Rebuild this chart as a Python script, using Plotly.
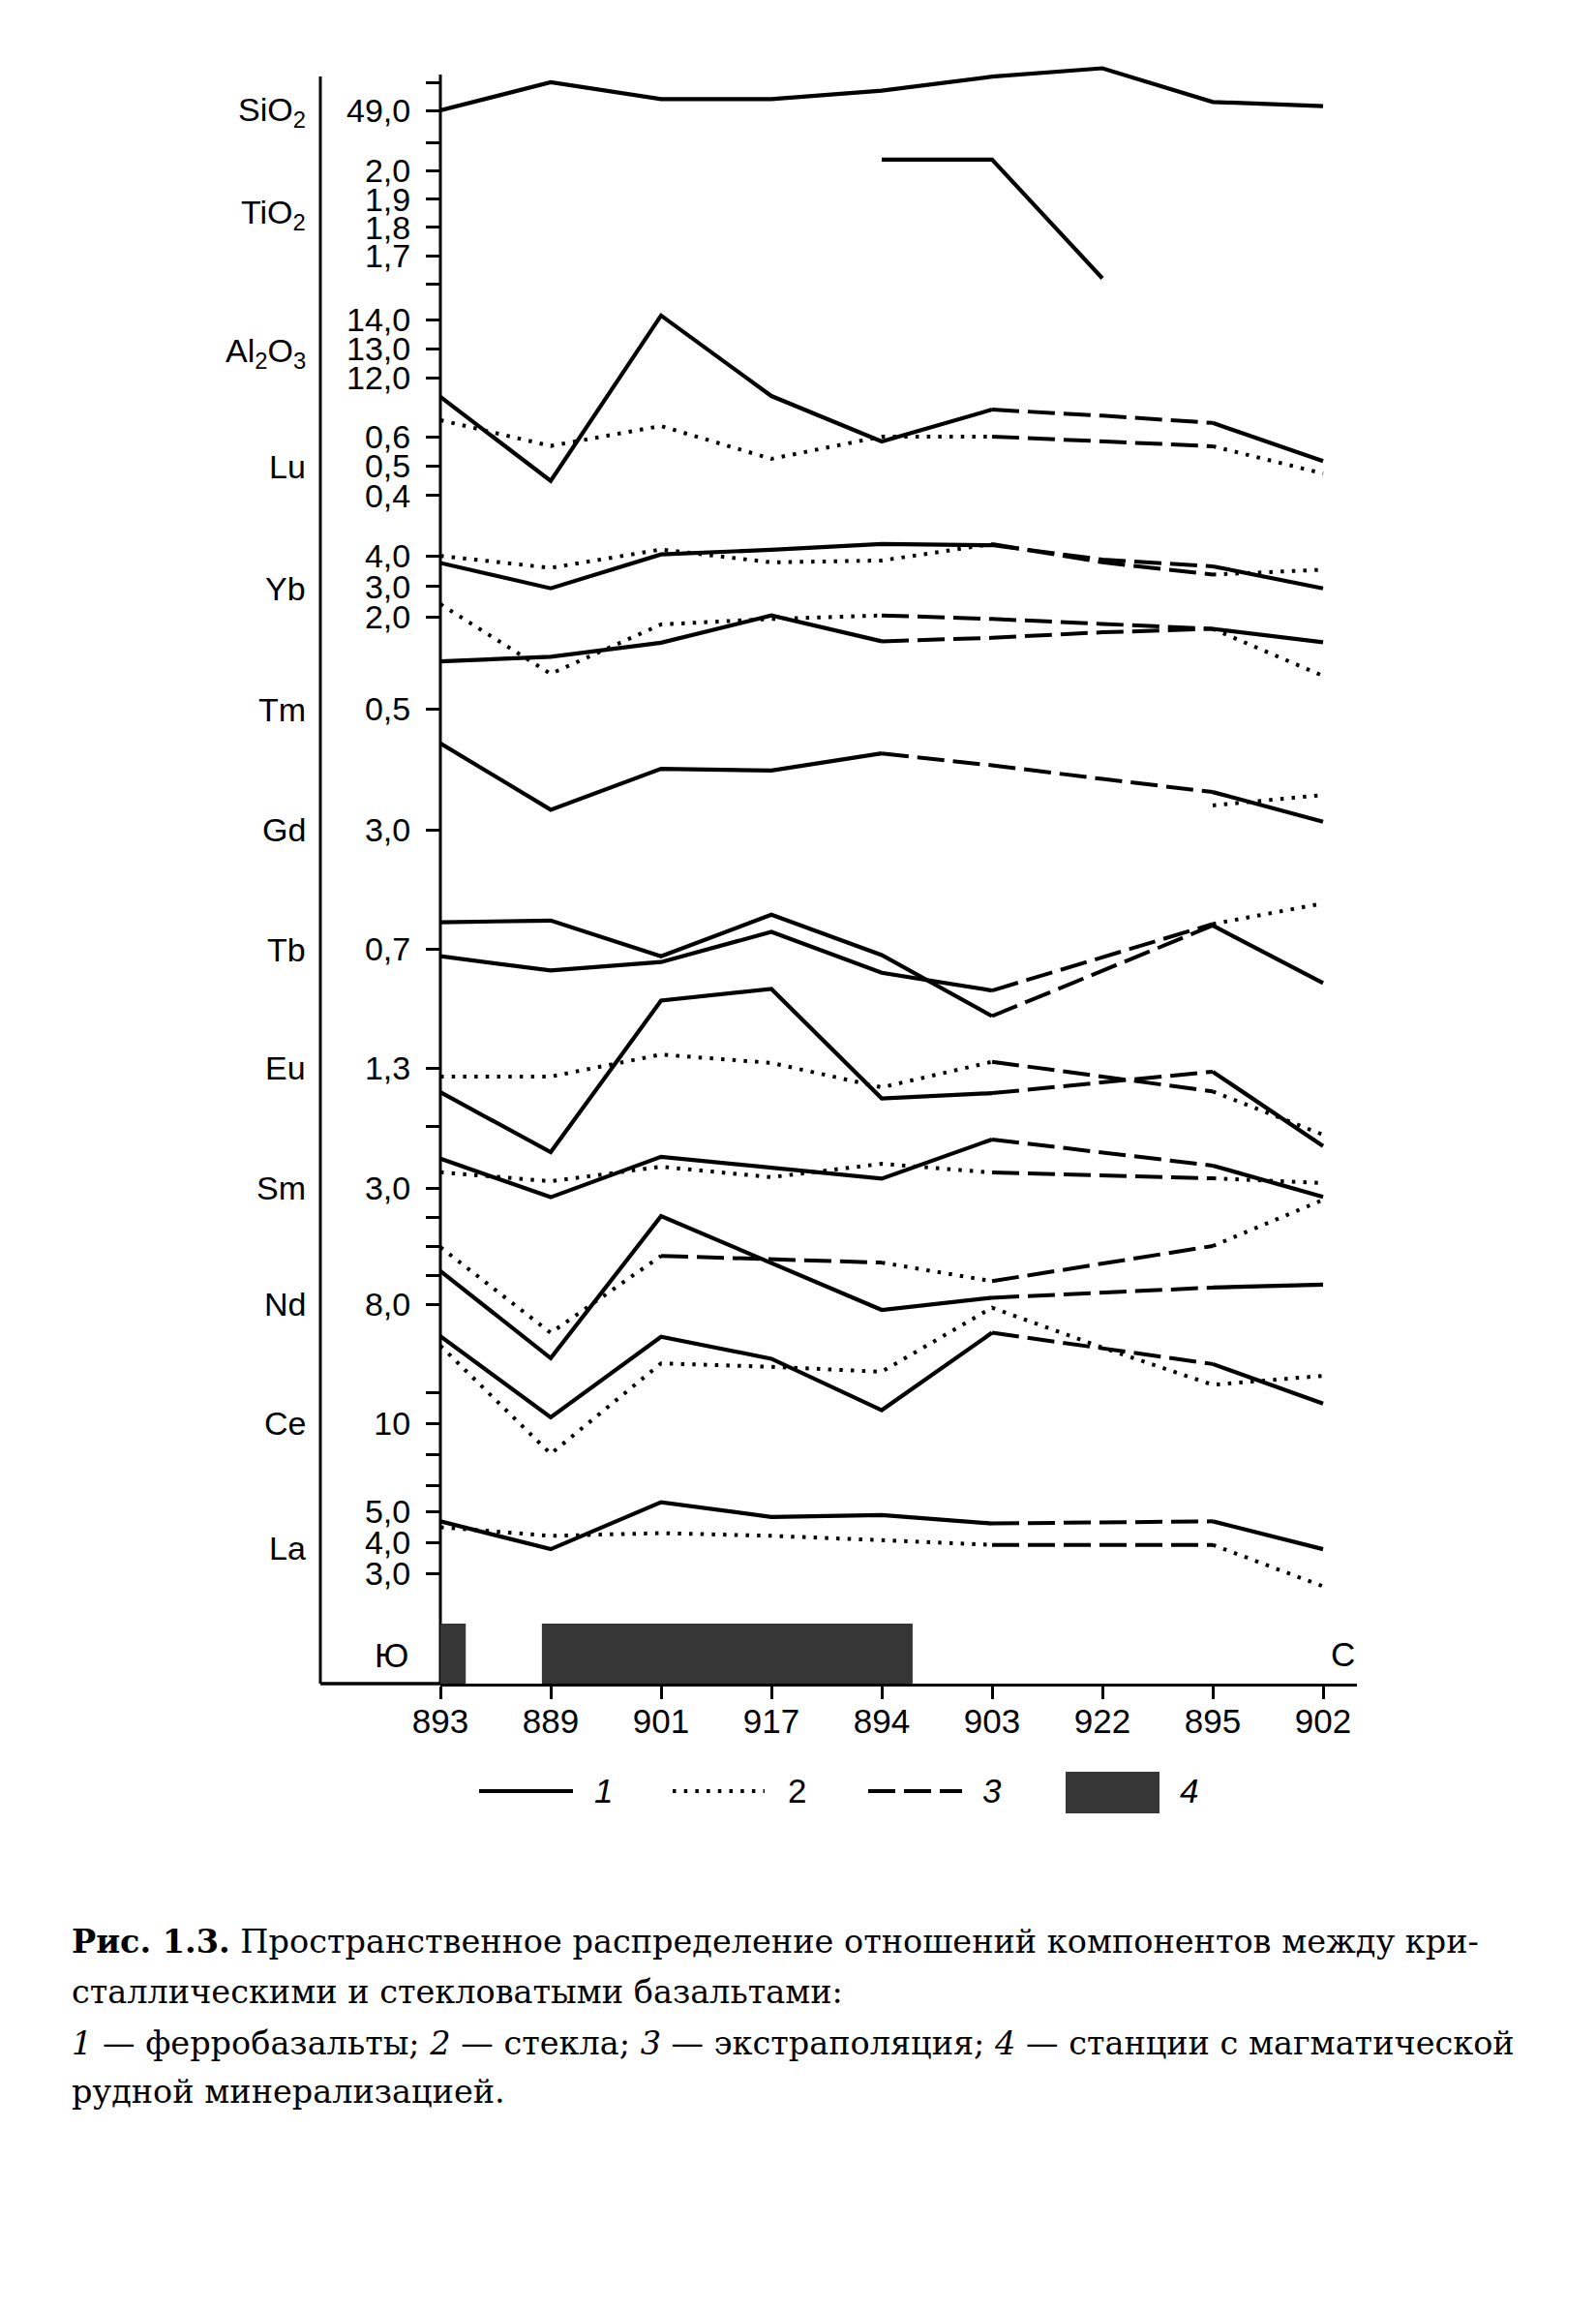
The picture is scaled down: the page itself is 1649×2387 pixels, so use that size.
import plotly.graph_objects as go

# ---------------- data ----------------
stations = ["893", "889", "901", "917", "894", "903", "922", "895", "902"]

# values per station (None = no data); series 1 = ферробазальты, 2 = стекла
SiO2_1 = [49.0, 50.0, 49.4, 49.4, 49.7, 50.2, 50.5, 49.3, 49.15]
TiO2_1 = [None, None, None, None, 2.04, 2.04, 1.62, None, None]
Al2O3_1 = [11.34, 8.44, 14.15, 11.37, 9.8, 10.9, 10.69, 10.44, 9.12]
Lu_2 = [0.657, 0.569, 0.637, 0.525, 0.601, 0.601, 0.584, 0.568, 0.475]
Yb_1 = [3.77, 2.94, 4.05, 4.20, 4.39, 4.35, 3.88, 3.66, 2.94]
Yb_2 = [4.0, 3.61, 4.21, 3.79, 3.85, 4.39, 3.79, 3.39, 3.55]
Tm_1 = [0.663, 0.679, 0.727, 0.821, 0.732, 0.744, 0.763, 0.775, 0.729]
Tm_2 = [0.86, 0.62, 0.79, 0.809, 0.821, 0.809, 0.792, 0.775, 0.613]
Gd_1 = [5.99, 3.70, 5.11, 5.05, 5.64, 5.23, 4.76, 4.31, 3.29]
Gd_2 = [None, None, None, None, None, None, None, 3.85, 4.21]
Tb_1a = [0.793, 0.799, 0.676, 0.819, 0.680, 0.470, 0.626, 0.782, 0.584]
Tb_1b = [0.676, 0.627, 0.656, 0.760, 0.619, 0.558, 0.672, 0.787, 0.858]
Eu_1 = [1.216, 1.01, 1.532, 1.572, 1.195, 1.213, 1.25, 1.287, 1.031]
Eu_2 = [1.27, 1.27, 1.346, 1.317, 1.233, 1.321, 1.27, 1.219, 1.07]
Sm_1 = [4.01, 2.68, 4.07, 3.68, 3.32, 4.67, 4.22, 3.77, 2.69]
Sm_2 = [3.54, 3.23, 3.73, 3.37, 3.83, 3.53, 3.43, 3.33, 3.17]
Nd_1 = [9.14, 6.14, 11.03, 9.4, 7.8, 8.22, 8.4, 8.57, 8.67]
Nd_2 = [9.96, 7.01, 9.66, 9.53, 9.43, 8.79, 9.4, 10.0, 11.59]
Ce_1 = [12.81, 10.19, 12.79, 12.08, 10.42, 12.92, 12.42, 11.91, 10.63]
Ce_2 = [12.5, 9.01, 11.93, 11.82, 11.66, 13.73, 12.44, 11.24, 11.53]
La_1 = [4.69, 3.79, 5.31, 4.83, 4.89, 4.62, 4.66, 4.69, 3.79]
La_2 = [4.5, 4.22, 4.31, 4.22, 4.08, 3.93, 3.93, 3.93, 2.59]

# kind of each link between neighbouring stations:
# 1 = ферробазальты, 2 = стекла, 3 = экстраполяция, . = none
SiO2_1_k = "11111111"
TiO2_1_k = "....11.."
Al2O3_1_k = "11111331"
Lu_2_k = "22222332"
Yb_1_k = "11111331"
Yb_2_k = "22222332"
Tm_1_k = "11113331"
Tm_2_k = "22223332"
Gd_1_k = "11113331"
Gd_2_k = ".......2"
Tb_1a_k = "11111331"
Tb_1b_k = "11111332"
Eu_1_k = "11111331"
Eu_2_k = "22222332"
Sm_1_k = "11111331"
Sm_2_k = "22222332"
Nd_1_k = "11111331"
Nd_2_k = "22332332"
Ce_1_k = "11111331"
Ce_2_k = "22222222"
La_1_k = "11111331"
La_2_k = "22222332"

# element names and their tick labels
elements = ["SiO2", "TiO2", "Al2O3", "Lu", "Yb", "Tm", "Gd", "Tb", "Eu", "Sm", "Nd", "Ce", "La"]
element_labels = ["SiO<sub>2</sub>", "TiO<sub>2</sub>", "Al<sub>2</sub>O<sub>3</sub>", "Lu", "Yb", "Tm",
                  "Gd", "Tb", "Eu", "Sm", "Nd", "Ce", "La"]
tick_values = {
    "SiO2": [49.0], "TiO2": [2.0, 1.9, 1.8, 1.7], "Al2O3": [14.0, 13.0, 12.0],
    "Lu": [0.6, 0.5, 0.4], "Yb": [4.0, 3.0, 2.0], "Tm": [0.5], "Gd": [3.0], "Tb": [0.7],
    "Eu": [1.3], "Sm": [3.0], "Nd": [8.0], "Ce": [10.0], "La": [5.0, 4.0, 3.0],
}
tick_texts = {
    "SiO2": ["49,0"], "TiO2": ["2,0", "1,9", "1,8", "1,7"], "Al2O3": ["14,0", "13,0", "12,0"],
    "Lu": ["0,6", "0,5", "0,4"], "Yb": ["4,0", "3,0", "2,0"], "Tm": ["0,5"], "Gd": ["3,0"],
    "Tb": ["0,7"], "Eu": ["1,3"], "Sm": ["3,0"], "Nd": ["8,0"], "Ce": ["10"],
    "La": ["5,0", "4,0", "3,0"],
}
minor_ticks = {
    "SiO2": [50.0], "TiO2": [2.1, 1.6], "Eu": [1.1], "Nd": [9.0, 10.0, 11.0], "Ce": [11.0, 9.0, 8.0],
}
series = [
    ("SiO2", SiO2_1, SiO2_1_k), ("TiO2", TiO2_1, TiO2_1_k), ("Al2O3", Al2O3_1, Al2O3_1_k),
    ("Lu", Lu_2, Lu_2_k), ("Yb", Yb_1, Yb_1_k), ("Yb", Yb_2, Yb_2_k),
    ("Tm", Tm_1, Tm_1_k), ("Tm", Tm_2, Tm_2_k), ("Gd", Gd_1, Gd_1_k), ("Gd", Gd_2, Gd_2_k),
    ("Tb", Tb_1a, Tb_1a_k), ("Tb", Tb_1b, Tb_1b_k), ("Eu", Eu_1, Eu_1_k), ("Eu", Eu_2, Eu_2_k),
    ("Sm", Sm_1, Sm_1_k), ("Sm", Sm_2, Sm_2_k), ("Nd", Nd_1, Nd_1_k), ("Nd", Nd_2, Nd_2_k),
    ("Ce", Ce_1, Ce_1_k), ("Ce", Ce_2, Ce_2_k), ("La", La_1, La_1_k), ("La", La_2, La_2_k),
]
# stations with magmatic ore mineralisation (first, last station index)
ore_zones = [(0, 0), (1, 4)]

# ---------------- layout geometry (pixels) ----------------
W, H = 1649, 2387
PL, PR, PT, PB = 455, 1402, 58, 1739           # plot area (top left free for lines above axis)
AXIS_TOP = 77                                  # drawn y-axis starts here
STEP = 114                                     # px between stations
# axis calibration: value v0 sits at pixel y0, ppu = pixels per unit
calib = {
    "SiO2": (49.0, 114, 29.0), "TiO2": (2.0, 176.5, 292.0), "Al2O3": (13.0, 360.3, 29.9),
    "Lu": (0.5, 481.5, 303.0), "Yb": (3.0, 605.8, 31.6), "Tm": (0.5, 732, 300.0),
    "Gd": (3.0, 857.4, 30.0), "Tb": (0.7, 980.5, 300.0), "Eu": (1.3, 1103, 300.0),
    "Sm": (3.0, 1227, 30.0), "Nd": (8.0, 1347, 30.0), "Ce": (10.0, 1470, 32.0),
    "La": (4.0, 1593.4, 31.95),
}
label_px = {"SiO2": 115, "TiO2": 222, "Al2O3": 365, "Lu": 482, "Yb": 608, "Tm": 733, "Gd": 857,
            "Tb": 981, "Eu": 1103, "Sm": 1227, "Nd": 1347, "Ce": 1470, "La": 1599}

PW = PR - PL
PH = PB - PT


def px_to_paper_x(px):
    return (px - PL) / PW


def px_to_paper_y(py):
    return (PB - py) / PH


SANS = "Liberation Sans, Arial, sans-serif"
SERIF = "DejaVu Serif, serif"

axis_name = {}
for i, el in enumerate(elements):
    axis_name[el] = "y" if i == 0 else f"y{i + 1}"

KIND_STYLE = {
    "1": dict(width=4.2, dash="solid"),
    "2": dict(width=4.0, dash="3.5px,8.2px"),
    "3": dict(width=4.0, dash="28px,9px"),
}


def runs(kinds):
    out = []
    i = 0
    while i < len(kinds):
        k = kinds[i]
        if k == ".":
            i += 1
            continue
        j = i
        while j + 1 < len(kinds) and kinds[j + 1] == k:
            j += 1
        out.append((k, i, j + 1))
        i = j + 1
    return out


fig = go.Figure()
for el, vals, kinds in series:
    for k, a, b in runs(kinds):
        xs = list(range(a, b + 1))
        ys = vals[a:b + 1]
        st = KIND_STYLE[k]
        fig.add_trace(go.Scatter(
            x=xs, y=ys, mode="lines", yaxis=axis_name[el],
            line=dict(color="black", width=st["width"], dash=st["dash"]),
            hoverinfo="skip", showlegend=False,
        ))

layout = dict(
    width=W, height=H,
    margin=dict(l=PL, r=W - PR, t=PT, b=H - PB, pad=0),
    paper_bgcolor="white", plot_bgcolor="white", showlegend=False,
    xaxis=dict(
        range=[0, PW / STEP], tickvals=list(range(len(stations))), ticktext=stations,
        ticks="outside", ticklen=13, tickwidth=3, tickcolor="black",
        showline=True, linewidth=3.3, linecolor="black", showgrid=False, zeroline=False,
        tickfont=dict(family=SANS, size=35, color="black"), ticklabelstandoff=-7,
    ),
)

for i, el in enumerate(elements):
    v0, y0, ppu = calib[el]
    lo = v0 - (PB - y0) / ppu
    hi = v0 + (y0 - PT) / ppu
    ax = dict(
        range=[lo, hi], anchor="x", side="left",
        tickmode="array", tickvals=tick_values[el], ticktext=tick_texts[el],
        ticks="outside", ticklen=14, tickwidth=3, tickcolor="black",
        showgrid=False, zeroline=False, showline=False,
        tickfont=dict(family=SANS, size=34, color="black"), ticklabelstandoff=9,
    )
    if el in minor_ticks:
        ax["minor"] = dict(tickmode="array", tickvals=minor_ticks[el], ticks="outside",
                           ticklen=14, tickwidth=3, tickcolor="black", showgrid=False)
    if i > 0:
        ax["overlaying"] = "y"
    key = "yaxis" if i == 0 else f"yaxis{i + 1}"
    layout[key] = ax

fig.update_layout(**layout)

annotations = []
# element labels
for el, lab in zip(elements, element_labels):
    annotations.append(dict(
        text=lab, xref="paper", yref="paper",
        x=px_to_paper_x(318), y=px_to_paper_y(label_px[el]),
        xanchor="right", yanchor="middle", showarrow=False,
        font=dict(family=SANS, size=34, color="black"),
    ))
# direction letters
annotations.append(dict(text="Ю", xref="paper", yref="paper", x=px_to_paper_x(404),
                        y=px_to_paper_y(1709), xanchor="center", yanchor="middle",
                        showarrow=False, font=dict(family=SANS, size=35, color="black")))
annotations.append(dict(text="С", xref="paper", yref="paper", x=px_to_paper_x(1387),
                        y=px_to_paper_y(1708), xanchor="center", yanchor="middle",
                        showarrow=False, font=dict(family=SANS, size=35, color="black")))

shapes = []
# y axis line (starts a little below the top of the drawing area)
shapes.append(dict(type="line", xref="paper", yref="paper", x0=0, x1=0,
                   y0=0, y1=px_to_paper_y(AXIS_TOP), line=dict(color="black", width=3)))

# legend
LEG_Y = px_to_paper_y(1850)
legend_items = [("1", 495, 592, 623, "1"), ("2", 695, 790, 823, "2"), ("3", 897, 994, 1025, "3")]
for kind, x0, x1, xt, txt in legend_items:
    st = KIND_STYLE[kind]
    shapes.append(dict(type="line", xref="paper", yref="paper",
                       x0=px_to_paper_x(x0), x1=px_to_paper_x(x1), y0=LEG_Y, y1=LEG_Y,
                       line=dict(color="black", width=st["width"], dash=st["dash"])))
    label = txt if txt == "2" else f"<i>{txt}</i>"
    annotations.append(dict(text=label, xref="paper", yref="paper", x=px_to_paper_x(xt), y=LEG_Y,
                            xanchor="center", yanchor="middle", showarrow=False,
                            font=dict(family=SANS, size=35, color="black")))
shapes.append(dict(type="rect", xref="paper", yref="paper",
                   x0=px_to_paper_x(1101), x1=px_to_paper_x(1198),
                   y0=px_to_paper_y(1873), y1=px_to_paper_y(1830),
                   fillcolor="#363636", line=dict(width=0)))
annotations.append(dict(text="<i>4</i>", xref="paper", yref="paper", x=px_to_paper_x(1228), y=LEG_Y,
                        xanchor="center", yanchor="middle", showarrow=False,
                        font=dict(family=SANS, size=35, color="black")))

# ore mineralisation bars
for s0, s1 in ore_zones:
    x0 = s0 - 0.02 if s0 == 0 else s0 - 0.08
    x1 = s1 + 0.23 if s1 == 0 else s1 + 0.28
    shapes.append(dict(type="rect", xref="x", yref="paper", x0=x0, x1=x1,
                       y0=0, y1=px_to_paper_y(1677), fillcolor="#363636", line=dict(width=0)))

# frame lines: left vertical line and bottom extension
shapes.append(dict(type="line", xref="paper", yref="paper", x0=px_to_paper_x(331), x1=px_to_paper_x(331),
                   y0=0, y1=px_to_paper_y(79), line=dict(color="black", width=3)))
shapes.append(dict(type="line", xref="paper", yref="paper", x0=px_to_paper_x(331), x1=0,
                   y0=0, y1=0, line=dict(color="black", width=3.3)))

# caption
cap_lines = [
    (2005, "<b>Рис. 1.3.</b> Пространственное распределение отношений компонентов между кри-"),
    (2057, "сталлическими и стекловатыми базальтами:"),
    (2110, "<i>1</i> — ферробазальты; <i>2</i> — стекла; <i>3</i> — экстраполяция; "
           "<i>4</i> — станции с магматической"),
    (2160, "рудной минерализацией."),
]
for ypx, txt in cap_lines:
    annotations.append(dict(text=txt, xref="paper", yref="paper", x=px_to_paper_x(72),
                            y=px_to_paper_y(ypx), xanchor="left", yanchor="middle",
                            showarrow=False, font=dict(family=SERIF, size=33.5, color="black")))

fig.update_layout(annotations=annotations, shapes=shapes)
fig.write_html("out.html", config={"displayModeBar": False},
               post_script="document.body.style.margin='0';document.body.style.padding='0';")
